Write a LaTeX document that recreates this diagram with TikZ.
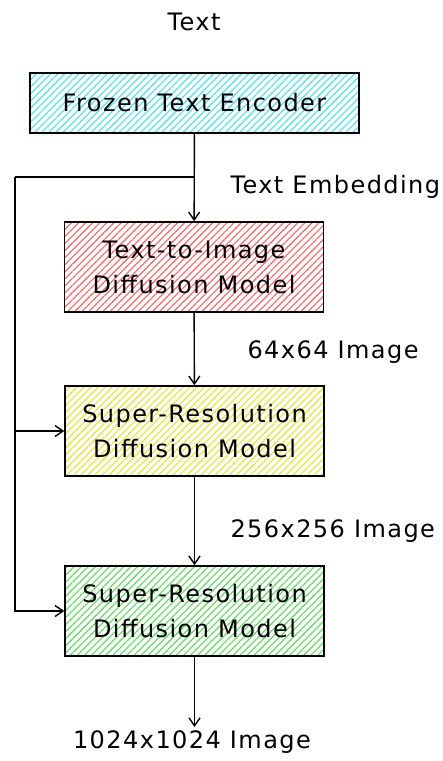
\documentclass[tikz,border=0pt]{standalone}
\usepackage{fontspec}
\setmainfont[LetterSpace=6]{DejaVu Sans}
\usetikzlibrary{arrows.meta, patterns.meta}
\definecolor{encoderhatch}{RGB}{70, 225, 245}
\definecolor{basehatch}{RGB}{255, 95, 95}
\definecolor{srhatch}{RGB}{235, 228, 40}
\definecolor{srtwohatch}{RGB}{85, 222, 85}
\tikzset{
    every node/.style={font=\fontsize{24}{35}\selectfont},
    modelbox/.style={draw, line width=1.5pt, rectangle, align=center,
        minimum width=259, minimum height=90, inner sep=0pt,
        pattern={Lines[angle=45, distance=5pt, line width=1.1pt]}},
    flow/.style={line width=1.4pt,
        -{Straight Barb[length=8pt, width=11pt, line width=1.4pt]}},
    link/.style={line width=1.4pt},
}

\begin{document}
\begin{tikzpicture}[x=1pt, y=-1pt]
        \useasboundingbox (0, 0) rectangle (443, 761);
        \coordinate (encpos) at (194.5, 103);
        \coordinate (basepos) at (194, 267);
        \coordinate (srpos) at (194.5, 431);
        \coordinate (srtwopos) at (194.5, 611);
        \node (txt) at (194, 22) {Text};
        \node[modelbox, minimum width=329, minimum height=60,
            pattern color=encoderhatch] (enc) at (encpos)
            {Frozen Text Encoder};
        \node[modelbox, pattern color=basehatch] (base) at (basepos)
            {Text-to-Image\\Diffusion Model};
        \node[modelbox, pattern color=srhatch] (sr) at (srpos)
            {Super-Resolution\\Diffusion Model};
        \node[modelbox, pattern color=srtwohatch] (srtwo) at (srtwopos)
            {Super-Resolution\\Diffusion Model};
        \node[anchor=west] (emb) at (227, 187) {Text Embedding};
        \node[anchor=west] (lowres) at (244, 352) {64x64 Image};
        \node[anchor=west] (midres) at (227, 531) {256x256 Image};
        \node (highres) at (192, 742) {1024x1024 Image};
        \coordinate (split) at (194, 177);
        \coordinate (rail) at (15, 177);
        \draw[flow] (enc) -- (base);
        \draw[link] (split) -- (rail);
        \draw[flow] (rail) |- (sr.west);
        \draw[flow] (rail) |- (srtwo.west);
        \draw[flow] (base) -- (sr);
        \draw[flow] (sr) -- (srtwo);
        \draw[flow] (srtwo) -- (srtwo.south |- highres.north);
    \end{tikzpicture}
\end{document}
